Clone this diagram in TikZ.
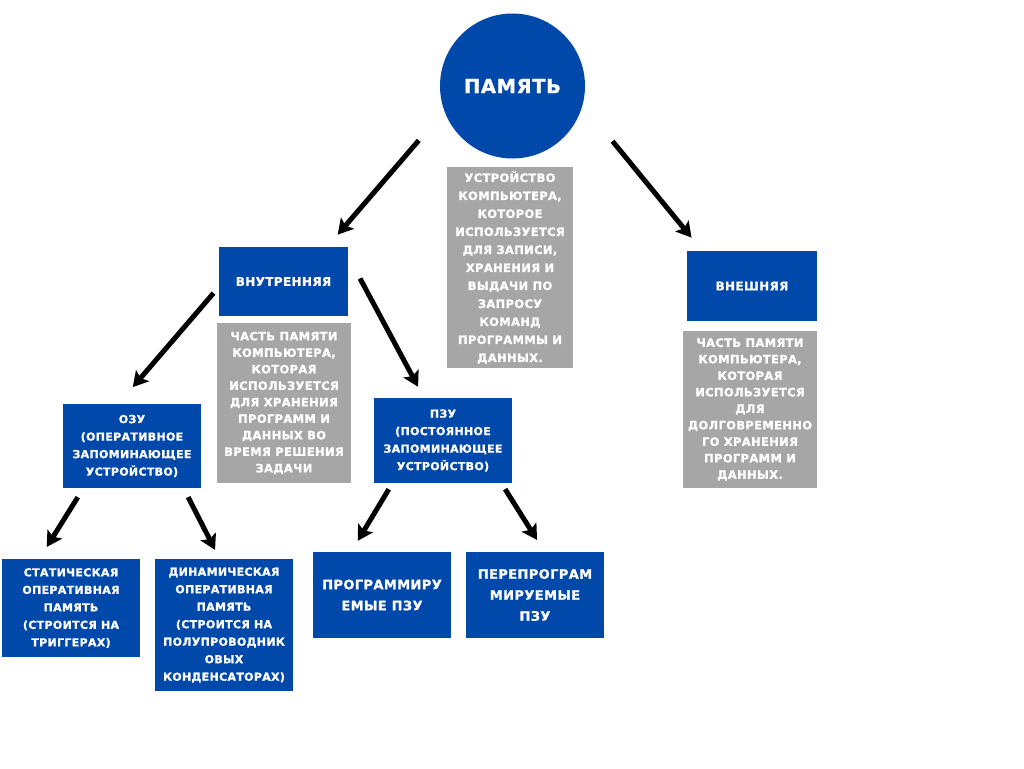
\documentclass[tikz,border=0pt]{standalone}
\usepackage{fontspec}
\setmainfont{DejaVu Sans}[LetterSpace=3,BoldFeatures={FakeBold=1.2}]
\usetikzlibrary{arrows.meta}
\definecolor{memblue}{RGB}{0,72,170}
\definecolor{memgray}{RGB}{166,166,166}

\begin{document}
\begin{tikzpicture}[x=1pt,y=-1pt,
    bluebox/.style={fill=memblue,text=white,align=center,inner sep=0pt,
      font=\bfseries\fontsize{11}{17.5}\selectfont},
    bigbox/.style={bluebox,font=\bfseries\fontsize{13}{21}\selectfont},
    graybox/.style={fill=memgray,text=white,align=center,inner sep=0pt,
      font=\bfseries\fontsize{11.5}{16.5}\selectfont},
    arr/.style={line width=5pt,-{Stealth[length=15pt,width=17pt,inset=3pt]}}]
        \fill[white] (0,0) rectangle (1024,768);
        \useasboundingbox (0,0) rectangle (1024,768);

        \node[circle,fill=memblue,text=white,minimum size=145pt,inner sep=0pt,
          font=\bfseries\fontsize{19.5}{22}\selectfont] (mem) at (512.5,86) {ПАМЯТЬ};
        \node[graybox,minimum width=126pt,minimum height=201pt,
          font=\bfseries\fontsize{11.5}{18}\selectfont] (memtxt) at (510,267.5)
          {УСТРОЙСТВО\\КОМПЬЮТЕРА,\\КОТОРОЕ\\ИСПОЛЬЗУЕТСЯ\\ДЛЯ ЗАПИСИ,\\ХРАНЕНИЯ И\\ВЫДАЧИ ПО\\ЗАПРОСУ\\КОМАНД\\ПРОГРАММЫ И\\ДАННЫХ.};

        \node[bluebox,minimum width=129pt,minimum height=69pt,
          font=\bfseries\fontsize{12}{14}\selectfont] (inner) at (283.5,281.5) {ВНУТРЕННЯЯ};
        \node[graybox,minimum width=134pt,minimum height=160pt] (innertxt) at (284,403)
          {ЧАСТЬ ПАМЯТИ\\КОМПЬЮТЕРА,\\КОТОРАЯ\\ИСПОЛЬЗУЕТСЯ\\ДЛЯ ХРАНЕНИЯ\\ПРОГРАММ И\\ДАННЫХ ВО\\ВРЕМЯ РЕШЕНИЯ\\ЗАДАЧИ};

        \node[bluebox,minimum width=130pt,minimum height=70pt,
          font=\bfseries\fontsize{12}{14}\selectfont] (outer) at (752,286) {ВНЕШНЯЯ};
        \node[graybox,minimum width=134pt,minimum height=157pt] (outertxt) at (750,409.5)
          {ЧАСТЬ ПАМЯТИ\\КОМПЬЮТЕРА,\\КОТОРАЯ\\ИСПОЛЬЗУЕТСЯ\\ДЛЯ\\ДОЛГОВРЕМЕННО\\ГО ХРАНЕНИЯ\\ПРОГРАММ И\\ДАННЫХ.};

        \node[bluebox,minimum width=138pt,minimum height=84pt] (ozu) at (132,446)
          {ОЗУ\\(ОПЕРАТИВНОЕ\\ЗАПОМИНАЮЩЕЕ\\УСТРОЙСТВО)};
        \node[bluebox,minimum width=138pt,minimum height=85pt] (pzu) at (443,440.5)
          {ПЗУ\\(ПОСТОЯННОЕ\\ЗАПОМИНАЮЩЕЕ\\УСТРОЙСТВО)};

        \node[bluebox,minimum width=138pt,minimum height=98pt] (stat) at (71,608)
          {СТАТИЧЕСКАЯ\\ОПЕРАТИВНАЯ\\ПАМЯТЬ\\(СТРОИТСЯ НА\\ТРИГГЕРАХ)};
        \node[bluebox,minimum width=138pt,minimum height=132pt] (dyn) at (224,625)
          {ДИНАМИЧЕСКАЯ\\ОПЕРАТИВНАЯ\\ПАМЯТЬ\\(СТРОИТСЯ НА\\ПОЛУПРОВОДНИК\\ОВЫХ\\КОНДЕНСАТОРАХ)};
        \node[bigbox,minimum width=138pt,minimum height=86pt] (prog) at (382,595)
          {ПРОГРАММИРУ\\ЕМЫЕ ПЗУ};
        \node[bigbox,minimum width=138pt,minimum height=86pt] (pere) at (535,595)
          {ПЕРЕПРОГРАМ\\МИРУЕМЫЕ\\ПЗУ};

        \draw[arr,shorten <=39pt,shorten >=16pt] (mem.200) -- ([xshift=-21pt]inner.north east);
        \draw[arr,shorten <=47pt,shorten >=17pt] (mem.345) -- ([xshift=15.5pt]outer.north west);
        \draw[arr,shorten <=8pt,shorten >=22pt] ([yshift=-5.5pt]inner.west) -- ([xshift=-13.6pt]ozu.north);
        \draw[arr,shorten <=25pt,shorten >=12.5pt] ([yshift=-9.6pt]inner.north east) -- ([xshift=-19pt]pzu.north);
        \draw[arr,shorten <=10.6pt,shorten >=14pt] ([xshift=20.6pt]ozu.south west) -- ([xshift=37.6pt]stat.north west);
        \draw[arr,shorten <=10pt,shorten >=10pt] ([xshift=-17.6pt]ozu.south east) -- ([xshift=-4.4pt]dyn.north);
        \draw[arr,shorten <=7pt,shorten >=12.8pt] ([xshift=18.6pt]pzu.south west) -- ([xshift=38.4pt]prog.north west);
        \draw[arr,shorten <=7pt,shorten >=14pt] ([xshift=-10.8pt]pzu.south east) -- ([xshift=9.5pt]pere.north);
      \end{tikzpicture}
\end{document}
